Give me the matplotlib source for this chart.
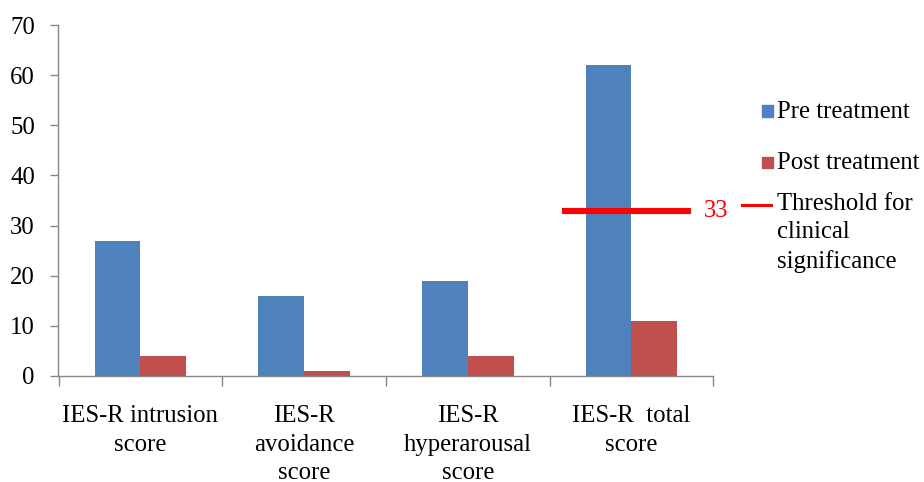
import matplotlib
matplotlib.use("Agg")
import matplotlib.pyplot as plt
from matplotlib.patches import Rectangle
from matplotlib.lines import Line2D
import numpy as np

categories = ["IES-R intrusion\nscore", "IES-R\navoidance\nscore", "IES-R\nhyperarousal\nscore", "IES-R  total\nscore"]
pre_values = [27, 16, 19, 62]
post_values = [4, 1, 4, 11]
threshold = 33
threshold_span = [2.576, 3.364]
series_labels = ["Pre treatment", "Post treatment", "Threshold for\nclinical\nsignificance"]
yticks = [0, 10, 20, 30, 40, 50, 60, 70]

blue = "#4F81BD"
red_bar = "#C0504D"
axis_col = "#868686"
fs = 17.8

plt.rcParams['font.family'] = ['Liberation Serif', 'DejaVu Serif']

fig = plt.figure(figsize=(9.24, 4.82), dpi=100)
ax = fig.add_axes([58.5/924, 1-376/482, (713.3-58.5)/924, (376-25)/482])

x = np.arange(len(categories))
w = 0.28
ax.bar(x - w/2, pre_values, w, color=blue, zorder=2)
ax.bar(x + w/2, post_values, w, color=red_bar, zorder=2)
ax.hlines(threshold, threshold_span[0], threshold_span[1], colors="#FF0000", linewidth=4.4, zorder=3)
ax.text(3.44, threshold, str(threshold), color="#FF0000", fontsize=fs, va="center", ha="left", clip_on=False)

ax.set_xlim(-0.5, len(categories) - 0.5)
ax.set_ylim(0, 70)
ax.set_yticks(yticks)
ax.set_yticklabels([str(t) for t in yticks], fontsize=fs)
ax.set_xticks(x)
ax.set_xticklabels(categories, fontsize=fs, linespacing=1.38)
ax.set_xticks(np.arange(-0.5, len(categories), 1.0), minor=True)
ax.tick_params(axis='x', which='major', length=0, pad=21)
ax.tick_params(axis='x', which='minor', length=7, width=1, color=axis_col, direction='out')
ax.tick_params(axis='y', length=6, width=1, color=axis_col, pad=11)

for s in ['top', 'right']:
    ax.spines[s].set_visible(False)
for s in ['left', 'bottom']:
    ax.spines[s].set_color(axis_col)
    ax.spines[s].set_linewidth(1)

# legend drawn manually in pixel coords
def px(xp, yp):
    return xp/924, 1 - yp/482

for col, lab, yc in [(blue, series_labels[0], 111), (red_bar, series_labels[1], 162)]:
    x0, y0 = px(762, yc + 5.5)
    fig.patches.append(Rectangle((x0, y0), 11/924, 11/482, transform=fig.transFigure, color=col))
    tx, ty = px(777, yc + 1)
    fig.text(tx, ty, lab, fontsize=fs, va='center', ha='left')

l0 = px(742, 205)
l1 = px(771, 205)
fig.lines.append(Line2D([l0[0], l1[0]], [l0[1], l1[1]], transform=fig.transFigure, color="#FF0000", linewidth=2.2))
tx, ty = px(777, 193)
fig.text(tx, ty, series_labels[2], fontsize=fs, va='top', ha='left', linespacing=1.36)

fig.savefig("out.png", dpi=100, facecolor="white")
